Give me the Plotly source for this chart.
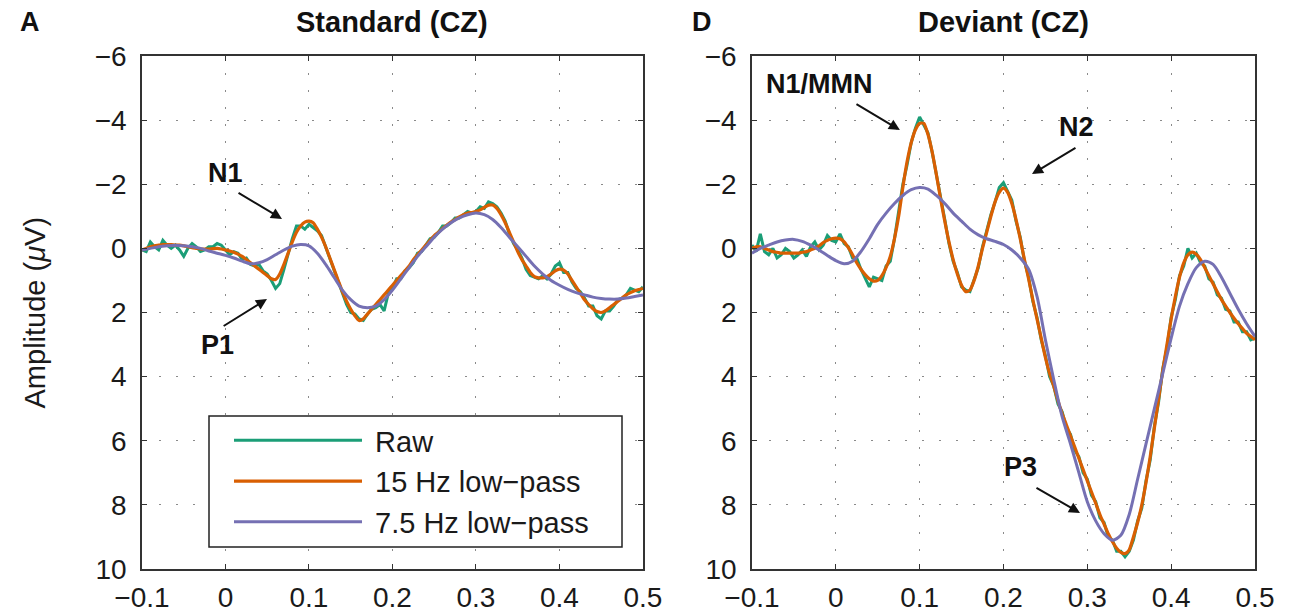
import plotly.graph_objects as go

# ---------------- data ----------------
t_fine = [round(-0.1 + 0.005 * i, 3) for i in range(121)]
t_coarse = [round(-0.1 + 0.01 * i, 2) for i in range(61)]

std_raw = [0.05, 0.1, -0.2, -0.05, 0.05, -0.25, -0.1, 0.0, -0.1, 0.05,
           0.25, 0.0, -0.15, -0.05, 0.1, 0.05, -0.05, -0.05, -0.15, -0.1,
           0.05, 0.2, 0.1, 0.15, 0.35, 0.3, 0.5, 0.55, 0.5, 0.7,
           0.8, 1.0, 1.25, 1.1, 0.65, 0.15, -0.3, -0.7, -0.7, -0.6,
           -0.75, -0.65, -0.55, -0.4, -0.05, 0.35, 0.65, 1.05, 1.35, 1.75,
           2.0, 2.05, 2.2, 2.25, 2.05, 1.9, 1.85, 1.75, 1.95, 1.4,
           1.25, 0.95, 0.95, 0.7, 0.6, 0.45, 0.15, 0.1, -0.1, -0.3,
           -0.35, -0.5, -0.7, -0.7, -0.8, -0.95, -0.95, -1.05, -1.15, -1.1,
           -1.15, -1.3, -1.25, -1.45, -1.4, -1.3, -1.1, -0.85, -0.45, -0.15,
           0.05, 0.3, 0.65, 0.85, 0.9, 0.95, 0.85, 0.95, 0.8, 0.55,
           0.45, 0.75, 0.75, 1.05, 1.25, 1.35, 1.55, 1.8, 1.8, 2.1,
           2.2, 1.95, 1.95, 1.8, 1.6, 1.55, 1.45, 1.25, 1.3, 1.35,
           1.2]

std_15hz = [0.05, 0.0, -0.05, -0.08, -0.1, -0.12, -0.12, -0.12, -0.1, -0.1,
            -0.08, -0.05, -0.02, 0.0, 0.02, 0.02, 0.02, 0.01, 0.0, 0.02,
            0.05, 0.08, 0.12, 0.18, 0.25, 0.35, 0.45, 0.55, 0.65, 0.75,
            0.85, 0.95, 0.97, 0.8, 0.5, 0.15, -0.2, -0.5, -0.7, -0.82,
            -0.85, -0.8, -0.6, -0.35, -0.05, 0.3, 0.65, 1.0, 1.35, 1.65,
            1.9, 2.1, 2.25, 2.2, 2.05, 1.9, 1.75, 1.6, 1.45, 1.3,
            1.15, 1.0, 0.85, 0.7, 0.55, 0.35, 0.2, 0.05, -0.1, -0.25,
            -0.4, -0.5, -0.62, -0.72, -0.82, -0.9, -0.98, -1.05, -1.1, -1.12,
            -1.15, -1.2, -1.28, -1.35, -1.35, -1.25, -1.05, -0.8, -0.5, -0.2,
            0.1, 0.35, 0.55, 0.75, 0.88, 0.92, 0.92, 0.88, 0.8, 0.7,
            0.65, 0.68, 0.8, 1.0, 1.2, 1.4, 1.6, 1.75, 1.88, 1.97,
            2.0, 1.95, 1.85, 1.75, 1.65, 1.55, 1.45, 1.38, 1.32, 1.28,
            1.25]

std_7hz = [0.05, 0.0, -0.05, -0.08, -0.1, -0.08, -0.05, 0.0, 0.08, 0.15,
           0.22, 0.3, 0.4, 0.48, 0.45, 0.35, 0.2, 0.05, -0.07, -0.12,
           -0.08, 0.15, 0.5, 0.9, 1.3, 1.6, 1.8, 1.85, 1.8, 1.6,
           1.3, 0.95, 0.6, 0.25, -0.05, -0.35, -0.6, -0.8, -0.95, -1.05,
           -1.1, -1.05, -0.9, -0.65, -0.35, -0.05, 0.25, 0.55, 0.8, 1.0,
           1.15, 1.28, 1.38, 1.45, 1.52, 1.56, 1.58, 1.58, 1.55, 1.5,
           1.45]

dev_raw = [-0.1, 0.1, -0.45, 0.1, 0.2, 0.0, 0.3, 0.2, 0.0, 0.1,
           0.3, 0.2, 0.05, 0.25, -0.05, -0.2, 0.05, -0.1, -0.4, -0.25,
           -0.2, -0.45, -0.15, -0.05, 0.3, 0.3, 0.65, 0.95, 1.2, 0.9,
           0.95, 1.0, 0.55, 0.4, -0.3, -1.1, -2.0, -2.6, -3.3, -3.75,
           -4.1, -3.85, -3.6, -3.0, -2.35, -1.6, -0.9, -0.15, 0.4, 0.75,
           1.2, 1.3, 1.35, 0.95, 0.6, -0.05, -0.55, -1.05, -1.45, -1.9,
           -2.05, -1.8, -1.5, -0.85, -0.35, 0.4, 0.9, 1.65, 2.15, 2.85,
           3.35, 4.0, 4.3, 4.85, 5.1, 5.6, 5.8, 6.3, 6.5, 7.0,
           7.2, 7.7, 7.9, 8.4, 8.55, 9.0, 9.1, 9.45, 9.45, 9.62,
           9.45, 9.1, 8.5, 8.1, 7.25, 6.6, 5.55, 4.8, 3.75, 3.1,
           2.15, 1.6, 0.85, 0.55, 0.0, 0.3, 0.15, 0.45, 0.55, 0.95,
           1.05, 1.45, 1.55, 1.9, 1.95, 2.3, 2.3, 2.6, 2.6, 2.85,
           2.8]

dev_15hz = [0.0, -0.05, -0.05, 0.0, 0.05, 0.1, 0.12, 0.15, 0.15, 0.15,
            0.15, 0.15, 0.12, 0.1, 0.05, 0.0, -0.08, -0.18, -0.25, -0.3,
            -0.32, -0.3, -0.2, -0.02, 0.2, 0.45, 0.65, 0.82, 0.95, 1.02,
            1.0, 0.85, 0.6, 0.25, -0.3, -1.0, -1.9, -2.7, -3.3, -3.7,
            -3.9, -3.9, -3.55, -3.0, -2.3, -1.55, -0.85, -0.2, 0.35, 0.8,
            1.15, 1.35, 1.3, 1.0, 0.55, 0.0, -0.5, -1.0, -1.45, -1.75,
            -1.88, -1.75, -1.4, -0.9, -0.3, 0.35, 0.95, 1.6, 2.2, 2.8,
            3.4, 3.9, 4.3, 4.75, 5.15, 5.5, 5.85, 6.2, 6.55, 6.9,
            7.25, 7.6, 7.95, 8.3, 8.6, 8.9, 9.15, 9.35, 9.48, 9.52,
            9.4, 9.0, 8.55, 8.0, 7.3, 6.5, 5.6, 4.7, 3.8, 3.0,
            2.2, 1.5, 0.9, 0.45, 0.2, 0.12, 0.18, 0.35, 0.6, 0.85,
            1.1, 1.35, 1.6, 1.8, 2.0, 2.18, 2.35, 2.5, 2.65, 2.75,
            2.85]

dev_7hz = [0.15, 0.0, -0.1, -0.2, -0.26, -0.28, -0.22, -0.1, 0.05, 0.22,
           0.38, 0.48, 0.4, 0.1, -0.3, -0.75, -1.1, -1.4, -1.65, -1.83,
           -1.9, -1.85, -1.65, -1.4, -1.1, -0.85, -0.6, -0.42, -0.3, -0.22,
           -0.12, 0.05, 0.3, 0.65, 1.5, 2.85, 4.1, 5.25, 6.1, 7.0,
           7.9, 8.5, 8.9, 9.1, 8.95, 8.3, 7.2, 6.1, 5.0, 3.9,
           2.8, 1.8, 1.1, 0.6, 0.4, 0.5, 0.9, 1.4, 1.9, 2.35,
           2.75]

series_names = ["Raw", "15 Hz low\u2212pass", "7.5 Hz low\u2212pass"]
series_colors = ["#1b9e77", "#d95f02", "#7570b3"]
panel_titles = ["Standard (CZ)", "Deviant (CZ)"]
panel_letters = ["A", "D"]
y_ticks = [-6, -4, -2, 0, 2, 4, 6, 8, 10]
y_ticktext = ["\u22126", "\u22124", "\u22122", "0", "2", "4", "6", "8", "10"]
x_ticks = [-0.1, 0, 0.1, 0.2, 0.3, 0.4, 0.5]
x_ticktext = ["\u22120.1", "0", "0.1", "0.2", "0.3", "0.4", "0.5"]

# ---------------- figure ----------------
FONT = "Liberation Sans, Arial, Helvetica, sans-serif"
W, H = 1304, 614
ML, MR, MT, MB = 142, 49, 56, 45
PW, PH = W - ML - MR, H - MT - MB


def px_to_paper_x(px):
    return (px - ML) / PW


def px_to_paper_y(py):
    return (H - MB - py) / PH


fig = go.Figure()

panels = [
    ("x", "y", std_raw, std_15hz, std_7hz, True),
    ("x2", "y2", dev_raw, dev_15hz, dev_7hz, False),
]
for xa, ya, raw, f15, f7, show in panels:
    fig.add_trace(go.Scatter(x=t_fine, y=raw, mode="lines", name="\u00a0" + series_names[0],
                             line=dict(color=series_colors[0], width=3),
                             xaxis=xa, yaxis=ya, showlegend=show))
    fig.add_trace(go.Scatter(x=t_fine, y=f15, mode="lines", name="\u00a0" + series_names[1],
                             line=dict(color=series_colors[1], width=3.2, shape="spline", smoothing=0.6),
                             xaxis=xa, yaxis=ya, showlegend=show))
    fig.add_trace(go.Scatter(x=t_coarse, y=f7, mode="lines", name="\u00a0" + series_names[2],
                             line=dict(color=series_colors[2], width=3, shape="spline", smoothing=0.8),
                             xaxis=xa, yaxis=ya, showlegend=show))

axis_common = dict(
    showline=True, linecolor="#333333", linewidth=1.5, mirror="ticks",
    ticks="inside", ticklen=5, tickcolor="#333333", tickwidth=1.2,
    showgrid=True, gridcolor="#8a8a8a", gridwidth=1, griddash="2px,15px",
    zeroline=False, automargin=False,
    tickfont=dict(family=FONT, size=28, color="#1a1a1a"),
)
fig.update_layout(
    template="none",
    xaxis=dict(domain=[0, 0.4501], range=[-0.1, 0.5], tickvals=x_ticks,
               ticktext=x_ticktext, ticklabelstandoff=3, anchor="y", **axis_common),
    yaxis=dict(range=[10, -6], tickvals=y_ticks, ticktext=y_ticktext,
               ticklabelstandoff=8, anchor="x", **axis_common),
    xaxis2=dict(domain=[0.548, 1], range=[-0.1, 0.5], tickvals=x_ticks,
                ticktext=x_ticktext, ticklabelstandoff=3, anchor="y2", **axis_common),
    yaxis2=dict(range=[10, -6], tickvals=y_ticks, ticktext=y_ticktext,
                ticklabelstandoff=8, anchor="x2", **axis_common),
    width=W, height=H,
    margin=dict(l=ML, r=MR, t=MT, b=MB, autoexpand=False),
    plot_bgcolor="white", paper_bgcolor="white",
    font=dict(family=FONT, color="#1a1a1a"),
    legend=dict(x=px_to_paper_x(229), y=px_to_paper_y(415), xanchor="left", yanchor="top",
                bgcolor="rgba(0,0,0,0)", borderwidth=0,
                font=dict(family=FONT, size=29, color="#1a1a1a"),
                itemwidth=128, tracegroupgap=0),
    showlegend=True,
)

# legend frame
fig.add_shape(type="rect", xref="paper", yref="paper",
              x0=px_to_paper_x(209), x1=px_to_paper_x(622),
              y0=px_to_paper_y(547), y1=px_to_paper_y(416),
              line=dict(color="#222222", width=1.5), fillcolor="white", layer="above")

annos = []
for i, title in enumerate(panel_titles):
    xd = fig.layout["xaxis" if i == 0 else "xaxis2"].domain
    annos.append(dict(text="<b>%s</b>" % title, xref="paper", yref="paper",
                      x=(xd[0] + xd[1]) / 2, y=px_to_paper_y(22), showarrow=False,
                      xanchor="center", yanchor="middle",
                      font=dict(family=FONT, size=29, color="#111111")))
for letter, lx in zip(panel_letters, [30, 702]):
    annos.append(dict(text="<b>%s</b>" % letter, xref="paper", yref="paper",
                      x=px_to_paper_x(lx), y=px_to_paper_y(22),
                      showarrow=False, xanchor="center", yanchor="middle",
                      font=dict(family=FONT, size=27, color="#111111")))
annos.append(dict(text="Amplitude (<i>\u03bc</i>V)", xref="paper", yref="paper",
                  x=px_to_paper_x(34), y=0.5, showarrow=False, textangle=-90,
                  xanchor="center", yanchor="middle",
                  font=dict(family=FONT, size=29, color="#1a1a1a")))

# peak labels (text) and arrows
labels = [
    ("x", "y", "N1", 0.0, -2.35, 0.0138, -1.76, 0.0677, -0.92),
    ("x", "y", "P1", -0.010, 3.01, -0.004, 2.45, 0.0497, 1.58),
    ("x2", "y2", "N1/MMN", -0.02, -5.13, 0.0229, -4.53, 0.0765, -3.69),
    ("x2", "y2", "N2", 0.2877, -3.79, 0.2877, -3.16, 0.234, -2.32),
    ("x2", "y2", "P3", 0.2209, 6.82, 0.2376, 7.44, 0.2913, 8.25),
]
for xr, yr, txt, tx, ty, ax, ay, hx, hy in labels:
    annos.append(dict(text="<b>%s</b>" % txt, xref=xr, yref=yr, x=tx, y=ty,
                      showarrow=False, xanchor="center", yanchor="middle",
                      font=dict(family=FONT, size=27, color="#111111")))
    annos.append(dict(text="", xref=xr, yref=yr, x=hx, y=hy, axref=xr, ayref=yr,
                      ax=ax, ay=ay, showarrow=True, arrowhead=2, arrowsize=1.1,
                      arrowwidth=2, arrowcolor="#111111"))
fig.update_layout(annotations=annos)

fig.write_html("out.html")
